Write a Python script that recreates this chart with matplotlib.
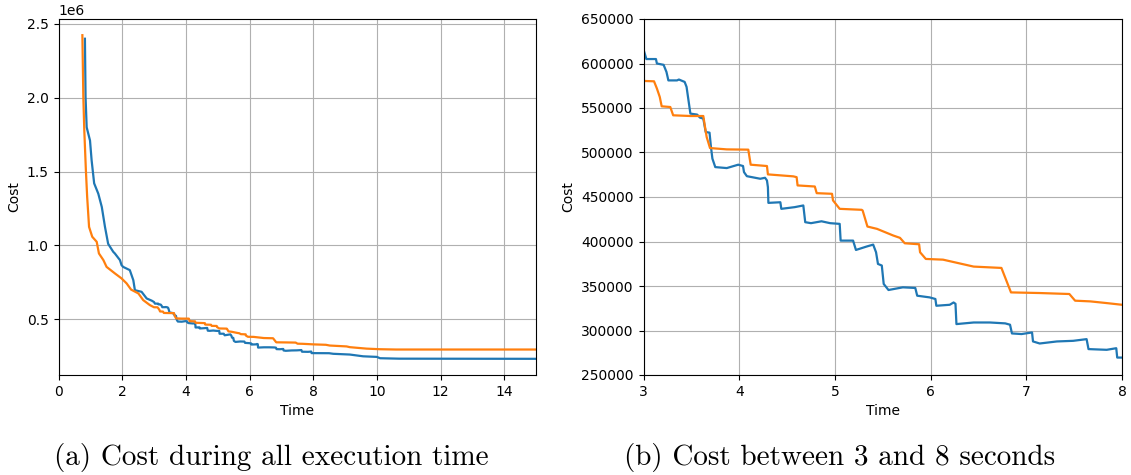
import matplotlib
matplotlib.use("Agg")
import matplotlib.pyplot as plt

# Blue series (time in s, cost)
blue_t = [0.83, 0.85, 0.885, 0.99, 1.04, 1.12, 1.25, 1.36, 1.46, 1.56, 1.72, 1.77, 1.93, 1.98,
          2.03, 2.24, 2.35, 2.40, 2.61, 2.77, 2.93, 3.0, 3.03, 3.13, 3.14, 3.21, 3.24, 3.26,
          3.35, 3.37, 3.43, 3.45, 3.47, 3.49, 3.56, 3.59, 3.625, 3.65, 3.69, 3.705, 3.72,
          3.75, 3.87, 3.99, 4.04, 4.05, 4.08, 4.22, 4.27, 4.29, 4.30, 4.305, 4.43, 4.44,
          4.58, 4.67, 4.69, 4.75, 4.86, 4.95, 5.05, 5.06, 5.19, 5.22, 5.33, 5.40, 5.43,
          5.45, 5.49, 5.51, 5.56, 5.71, 5.84, 5.86, 5.99, 6.05, 6.06, 6.20, 6.24, 6.26,
          6.27, 6.45, 6.62, 6.78, 6.83, 6.85, 6.95, 7.06, 7.07, 7.14, 7.32, 7.49, 7.63,
          7.65, 7.84, 7.94, 7.95, 8.05, 8.5, 8.63, 9.15, 9.57, 10.0, 10.1, 10.7, 15.0]
blue_cost = [2400000, 2006000, 1800000, 1710000, 1577000, 1420000, 1350000, 1260000, 1125000,
             1010000, 956000, 945000, 900000, 866000, 854000, 832000, 764000, 696000, 685000,
             640000, 625000, 615800, 605000, 605000, 600000, 598500, 590500, 581000, 581000,
             582000, 579300, 573700, 558700, 543700, 542600, 539200, 538100, 523000, 522300,
             506100, 493100, 483600, 482500, 486300, 484800, 478000, 473400, 470500, 471600,
             468600, 461000, 443400, 444100, 436700, 438600, 440500, 421700, 420600, 422700,
             420600, 419800, 401000, 401000, 390500, 394300, 396500, 387900, 374800, 373000,
             352300, 345500, 348500, 347800, 339100, 337200, 335400, 327800, 328900, 331500,
             330000, 307200, 309000, 309000, 308000, 306500, 296700, 296000, 297800, 287700,
             285400, 287700, 288400, 290300, 279100, 278300, 280100, 269600, 269500, 269000,
             265000, 260000, 248000, 244000, 235000, 232000, 231000]

# Orange series (time in s, cost)
orange_t = [0.75, 0.78, 0.81, 0.86, 0.90, 0.96, 1.06, 1.20, 1.27, 1.41, 1.51, 1.77, 1.98,
            2.14, 2.28, 2.51, 2.66, 2.87, 3.0, 3.11, 3.14, 3.17, 3.19, 3.28, 3.31, 3.49,
            3.625, 3.64, 3.66, 3.695, 3.87, 4.095, 4.12, 4.29, 4.30, 4.565, 4.60, 4.61,
            4.79, 4.81, 4.97, 4.98, 5.05, 5.28, 5.29, 5.34, 5.44, 5.61, 5.68, 5.73, 5.88,
            5.89, 5.95, 6.13, 6.45, 6.74, 6.84, 7.14, 7.45, 7.51, 7.67, 7.84, 8.0, 8.4,
            8.52, 9.05, 9.15, 9.36, 9.68, 10.1, 10.6, 15.0]
orange_cost = [2424000, 2006000, 1780000, 1510000, 1330000, 1125000, 1058000, 1024000, 945000,
               900000, 854000, 810000, 776000, 742000, 700000, 674000, 629000, 595000, 580400,
               580000, 571900, 562400, 551900, 551100, 541800, 541000, 541000, 530500, 517400,
               505000, 503500, 503200, 486300, 484800, 475400, 473200, 472300, 463000, 461800,
               454300, 453600, 446200, 436700, 435600, 434800, 416800, 414200, 406700, 404100,
               398000, 396900, 387900, 380400, 379600, 371800, 370300, 342800, 342100, 341000,
               333500, 332700, 330800, 328900, 326000, 321000, 315000, 310000, 306000, 300000,
               296000, 294000, 294000]

captions = ["(a) Cost during all execution time", "(b) Cost between 3 and 8 seconds"]
right_yticks = [250000, 300000, 350000, 400000, 450000, 500000, 550000, 600000, 650000]

fig = plt.figure(figsize=(11.31, 4.75), dpi=100)
ax1 = fig.add_axes([58.5 / 1131, 1 - 375 / 475, (536 - 58.5) / 1131, (375 - 19) / 475])
ax2 = fig.add_axes([643.5 / 1131, 1 - 375 / 475, (1122 - 643.5) / 1131, (375 - 19) / 475])

for ax in (ax1, ax2):
    ax.plot(blue_t, blue_cost, color="#1f77b4", lw=1.6)
    ax.plot(orange_t, orange_cost, color="#ff7f0e", lw=1.6)
    ax.grid(True, color="#b0b0b0", lw=0.8)
    ax.set_xlabel("Time", fontsize=10)
    ax.set_ylabel("Cost", fontsize=10)
    ax.tick_params(labelsize=10)

ax1.set_xlim(0, 15)
ax2.set_xlim(3, 8)
ax2.set_ylim(250000, 650000)
ax2.set_yticks(right_yticks)

fig.text(271 / 1131, 1 - 458 / 475, captions[0], fontsize=21, family="cmr10",
         ha="center", va="center")
fig.text(840 / 1131, 1 - 458 / 475, captions[1], fontsize=21, family="cmr10",
         ha="center", va="center")

fig.savefig("out.png", dpi=100)
